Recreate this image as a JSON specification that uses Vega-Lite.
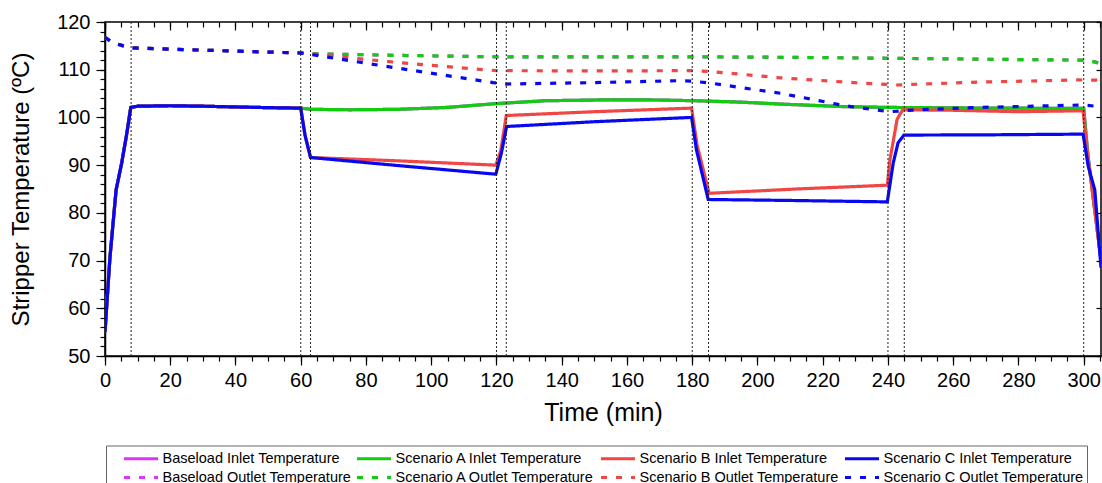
{
"$schema": "https://vega.github.io/schema/vega-lite/v6.json",
"width": 996, "height": 334,
"autosize": {"type": "none"},
"padding": {"left": 105, "top": 22, "right": 1, "bottom": 127},
"config": {
  "view": {"stroke": "black", "strokeWidth": 1.5},
  "font": "Liberation Sans",
  "axis": {"labelFont": "Liberation Sans", "titleFont": "Liberation Sans", "labelColor": "black", "titleColor": "black", "domainColor": "black", "tickColor": "black", "grid": false, "titleFontWeight": "normal", "domainWidth": 1.5, "tickWidth": 1.2, "labelFlush": false, "labelOverlap": false}
},
"datasets": {
"main": [
{"s":"L_in","t":0,"v":55},{"s":"L_in","t":1.5,"v":70.5},{"s":"L_in","t":3.4,"v":84.8},{"s":"L_in","t":5.1,"v":90.4},{"s":"L_in","t":6.6,"v":96.3},{"s":"L_in","t":7.9,"v":102.1},{"s":"L_in","t":10,"v":102.35},{"s":"L_in","t":20,"v":102.45},{"s":"L_in","t":30,"v":102.35},{"s":"L_in","t":40,"v":102.2},{"s":"L_in","t":50,"v":102.05},{"s":"L_in","t":60,"v":101.95},
{"s":"L_in","t":63,"v":101.7},{"s":"L_in","t":75,"v":101.6},{"s":"L_in","t":90,"v":101.7},{"s":"L_in","t":105,"v":102.1},{"s":"L_in","t":120,"v":102.9},{"s":"L_in","t":135,"v":103.5},{"s":"L_in","t":155,"v":103.7},{"s":"L_in","t":170,"v":103.65},{"s":"L_in","t":181,"v":103.5},{"s":"L_in","t":195,"v":103.2},{"s":"L_in","t":207,"v":102.8},{"s":"L_in","t":227,"v":102.25},{"s":"L_in","t":240,"v":102.1},{"s":"L_in","t":270,"v":101.95},{"s":"L_in","t":300,"v":101.9},{"s":"L_in","t":301.3,"v":92},{"s":"L_in","t":305.3,"v":70.2},
{"s":"L_out","t":0,"v":116.8},{"s":"L_out","t":2,"v":115.8},{"s":"L_out","t":5.6,"v":115.0},{"s":"L_out","t":8,"v":114.6},{"s":"L_out","t":20,"v":114.3},{"s":"L_out","t":40,"v":113.9},{"s":"L_out","t":60,"v":113.5},
{"s":"L_out","t":63,"v":113.35},{"s":"L_out","t":90,"v":113.0},{"s":"L_out","t":120,"v":112.7},{"s":"L_out","t":150,"v":112.7},{"s":"L_out","t":180,"v":112.7},{"s":"L_out","t":210,"v":112.6},{"s":"L_out","t":240,"v":112.4},{"s":"L_out","t":270,"v":112.2},{"s":"L_out","t":300,"v":112.0},{"s":"L_out","t":302.3,"v":111.8},{"s":"L_out","t":305.3,"v":111.3},
{"s":"A_in","t":0,"v":55},{"s":"A_in","t":1.5,"v":70.5},{"s":"A_in","t":3.4,"v":84.8},{"s":"A_in","t":5.1,"v":90.4},{"s":"A_in","t":6.6,"v":96.3},{"s":"A_in","t":7.9,"v":102.1},{"s":"A_in","t":10,"v":102.35},{"s":"A_in","t":20,"v":102.45},{"s":"A_in","t":30,"v":102.35},{"s":"A_in","t":40,"v":102.2},{"s":"A_in","t":50,"v":102.05},{"s":"A_in","t":60,"v":101.95},
{"s":"A_in","t":63,"v":101.7},{"s":"A_in","t":75,"v":101.6},{"s":"A_in","t":90,"v":101.7},{"s":"A_in","t":105,"v":102.1},{"s":"A_in","t":120,"v":102.9},{"s":"A_in","t":135,"v":103.5},{"s":"A_in","t":155,"v":103.7},{"s":"A_in","t":170,"v":103.65},{"s":"A_in","t":181,"v":103.5},{"s":"A_in","t":195,"v":103.2},{"s":"A_in","t":207,"v":102.8},{"s":"A_in","t":227,"v":102.25},{"s":"A_in","t":240,"v":102.1},{"s":"A_in","t":270,"v":101.95},{"s":"A_in","t":300,"v":101.9},{"s":"A_in","t":301.3,"v":92},{"s":"A_in","t":305.3,"v":70.2},
{"s":"A_out","t":0,"v":116.8},{"s":"A_out","t":2,"v":115.8},{"s":"A_out","t":5.6,"v":115.0},{"s":"A_out","t":8,"v":114.6},{"s":"A_out","t":20,"v":114.3},{"s":"A_out","t":40,"v":113.9},{"s":"A_out","t":60,"v":113.5},
{"s":"A_out","t":63,"v":113.35},{"s":"A_out","t":90,"v":113.0},{"s":"A_out","t":120,"v":112.7},{"s":"A_out","t":150,"v":112.7},{"s":"A_out","t":180,"v":112.7},{"s":"A_out","t":210,"v":112.6},{"s":"A_out","t":240,"v":112.4},{"s":"A_out","t":270,"v":112.2},{"s":"A_out","t":300,"v":112.0},{"s":"A_out","t":302.3,"v":111.8},{"s":"A_out","t":305.3,"v":111.3},
{"s":"B_in","t":0,"v":55},{"s":"B_in","t":1.5,"v":70.5},{"s":"B_in","t":3.4,"v":84.8},{"s":"B_in","t":5.1,"v":90.4},{"s":"B_in","t":6.6,"v":96.3},{"s":"B_in","t":7.9,"v":102.1},{"s":"B_in","t":10,"v":102.35},{"s":"B_in","t":20,"v":102.45},{"s":"B_in","t":30,"v":102.35},{"s":"B_in","t":40,"v":102.2},{"s":"B_in","t":50,"v":102.05},{"s":"B_in","t":60,"v":101.95},
{"s":"B_in","t":61.3,"v":96.3},{"s":"B_in","t":63,"v":91.6},{"s":"B_in","t":90,"v":90.9},{"s":"B_in","t":119.8,"v":90.0},{"s":"B_in","t":121.3,"v":93},{"s":"B_in","t":123,"v":100.4},{"s":"B_in","t":150,"v":101.2},{"s":"B_in","t":179.8,"v":101.95},{"s":"B_in","t":181.5,"v":94.2},{"s":"B_in","t":185.2,"v":84.1},{"s":"B_in","t":212,"v":85.0},{"s":"B_in","t":239.8,"v":85.8},{"s":"B_in","t":240.6,"v":91.1},{"s":"B_in","t":242.8,"v":99.6},{"s":"B_in","t":244.5,"v":101.6},{"s":"B_in","t":260,"v":101.5},{"s":"B_in","t":280,"v":101.2},{"s":"B_in","t":299.8,"v":101.4},{"s":"B_in","t":301.3,"v":91.8},{"s":"B_in","t":305.3,"v":70},
{"s":"B_out","t":0,"v":116.8},{"s":"B_out","t":2,"v":115.8},{"s":"B_out","t":5.6,"v":115.0},{"s":"B_out","t":8,"v":114.6},{"s":"B_out","t":20,"v":114.3},{"s":"B_out","t":40,"v":113.9},{"s":"B_out","t":60,"v":113.5},
{"s":"B_out","t":63,"v":113.3},{"s":"B_out","t":90,"v":111.5},{"s":"B_out","t":120,"v":109.8},{"s":"B_out","t":150,"v":109.75},{"s":"B_out","t":180,"v":109.8},{"s":"B_out","t":186,"v":109.6},{"s":"B_out","t":207,"v":108.3},{"s":"B_out","t":227,"v":107.4},{"s":"B_out","t":242.6,"v":106.8},{"s":"B_out","t":268,"v":107.4},{"s":"B_out","t":298,"v":107.85},{"s":"B_out","t":305.3,"v":107.8},
{"s":"C_in","t":0,"v":55},{"s":"C_in","t":1.5,"v":70.5},{"s":"C_in","t":3.4,"v":84.8},{"s":"C_in","t":5.1,"v":90.4},{"s":"C_in","t":6.6,"v":96.3},{"s":"C_in","t":7.9,"v":102.1},{"s":"C_in","t":10,"v":102.35},{"s":"C_in","t":20,"v":102.45},{"s":"C_in","t":30,"v":102.35},{"s":"C_in","t":40,"v":102.2},{"s":"C_in","t":50,"v":102.05},{"s":"C_in","t":60,"v":101.95},
{"s":"C_in","t":61.3,"v":96.3},{"s":"C_in","t":63,"v":91.6},{"s":"C_in","t":90,"v":89.9},{"s":"C_in","t":119.8,"v":88.1},{"s":"C_in","t":121.5,"v":92.5},{"s":"C_in","t":123.1,"v":98.1},{"s":"C_in","t":150,"v":99.1},{"s":"C_in","t":179.8,"v":100.0},{"s":"C_in","t":181.3,"v":93.2},{"s":"C_in","t":184.9,"v":82.8},{"s":"C_in","t":210,"v":82.6},{"s":"C_in","t":239.8,"v":82.3},{"s":"C_in","t":241.6,"v":90.4},{"s":"C_in","t":243.1,"v":94.7},{"s":"C_in","t":244.9,"v":96.3},{"s":"C_in","t":270,"v":96.35},{"s":"C_in","t":299.8,"v":96.5},{"s":"C_in","t":301.4,"v":89.7},{"s":"C_in","t":303.4,"v":84.8},{"s":"C_in","t":305.3,"v":68.5},
{"s":"C_out","t":0,"v":116.8},{"s":"C_out","t":2,"v":115.8},{"s":"C_out","t":5.6,"v":115.0},{"s":"C_out","t":8,"v":114.6},{"s":"C_out","t":20,"v":114.3},{"s":"C_out","t":40,"v":113.9},{"s":"C_out","t":60,"v":113.5},
{"s":"C_out","t":63,"v":113.2},{"s":"C_out","t":90,"v":110.3},{"s":"C_out","t":119,"v":107.3},{"s":"C_out","t":123,"v":107.0},{"s":"C_out","t":150,"v":107.3},{"s":"C_out","t":176,"v":107.7},{"s":"C_out","t":180,"v":107.6},{"s":"C_out","t":186,"v":107.15},{"s":"C_out","t":207,"v":105.06},{"s":"C_out","t":227.3,"v":102.4},{"s":"C_out","t":240.5,"v":101.2},{"s":"C_out","t":247.6,"v":101.55},{"s":"C_out","t":268,"v":102.1},{"s":"C_out","t":299.8,"v":102.6},{"s":"C_out","t":305.3,"v":102.25}
],
"events": [{"t":8},{"t":60},{"t":63},{"t":120},{"t":123},{"t":180},{"t":185},{"t":240},{"t":245},{"t":300}]
},
"data": {"name": "main"},
"layer": [
{
  "mark": {"type": "line", "strokeWidth": 3.2, "clip": true},
  "encoding": {
    "x": {"field": "t", "type": "quantitative", "scale": {"domain": [0, 305.3], "nice": false, "zero": false},
      "axis": {"orient": "bottom", "values": [0,20,40,60,80,100,120,140,160,180,200,220,240,260,280,300], "tickSize": 9, "labelFontSize": 20, "labelPadding": 5, "title": "Time (min)", "titleFontSize": 25, "titlePadding": 10}},
    "y": {"field": "v", "type": "quantitative", "scale": {"domain": [50, 120], "nice": false, "zero": false},
      "axis": {"orient": "left", "values": [50,60,70,80,90,100,110,120], "tickSize": 9, "labelFontSize": 20, "labelPadding": 6, "title": "Stripper Temperature (ºC)", "titleFontSize": 24, "titlePadding": 23}},
    "color": {"field": "s", "type": "nominal",
      "scale": {"domain": ["L_in","L_out","A_in","A_out","B_in","B_out","C_in","C_out"], "range": ["#dd33ff","#dd33ff","#11cc11","#11cc11","#f04646","#f04646","#0808f0","#0808f0"]},
      "legend": {"orient": "none", "legendX": 1, "legendY": 423.5, "columns": 4, "title": " ", "titleOrient": "left", "titleFontSize": 1, "titlePadding": 13.5,
        "labelExpr": "{'L_in':'Baseload Inlet Temperature','A_in':'Scenario A  Inlet Temperature','B_in':'Scenario B Inlet Temperature','C_in':'Scenario C Inlet Temperature','L_out':'Baseload Outlet Temperature','A_out':'Scenario A Outlet Temperature','B_out':'Scenario B Outlet Temperature','C_out':'Scenario C Outlet Temperature'}[datum.label]",
        "symbolType": "M-1,0H3", "symbolSize": 289, "symbolStrokeWidth": 3, "labelFontSize": 14.5, "labelFont": "Liberation Sans", "labelColor": "black", "labelLimit": 0, "labelOffset": 20, "columnPadding": -1, "rowPadding": 2, "padding": 3, "strokeColor": "#666666", "fillColor": "white"}},
    "strokeDash": {"field": "s", "type": "nominal",
      "scale": {"domain": ["L_in","L_out","A_in","A_out","B_in","B_out","C_in","C_out"], "range": [[1,0],[6,9],[1,0],[6,9],[1,0],[6,9],[1,0],[6,9]]},
      "legend": {"orient": "none", "legendX": 1, "legendY": 423.5, "columns": 4, "title": " ", "titleOrient": "left", "titleFontSize": 1, "titlePadding": 13.5,
        "labelExpr": "{'L_in':'Baseload Inlet Temperature','A_in':'Scenario A  Inlet Temperature','B_in':'Scenario B Inlet Temperature','C_in':'Scenario C Inlet Temperature','L_out':'Baseload Outlet Temperature','A_out':'Scenario A Outlet Temperature','B_out':'Scenario B Outlet Temperature','C_out':'Scenario C Outlet Temperature'}[datum.label]",
        "symbolType": "M-1,0H3", "symbolSize": 289, "symbolStrokeWidth": 3, "labelFontSize": 14.5, "labelFont": "Liberation Sans", "labelColor": "black", "labelLimit": 0, "labelOffset": 20, "columnPadding": -1, "rowPadding": 2, "padding": 3, "strokeColor": "#666666", "fillColor": "white"}},
    "order": {"field": "t", "type": "quantitative"}
  }
},
{
  "data": {"name": "events"},
  "mark": {"type": "rule", "strokeDash": [2, 2], "strokeWidth": 1, "color": "#222222"},
  "encoding": {
    "x": {"field": "t", "type": "quantitative",
      "axis": {"orient": "bottom", "values": [0,5,10,15,20,25,30,35,40,45,50,55,60,65,70,75,80,85,90,95,100,105,110,115,120,125,130,135,140,145,150,155,160,165,170,175,180,185,190,195,200,205,210,215,220,225,230,235,240,245,250,255,260,265,270,275,280,285,290,295,300,305], "tickSize": 5, "labels": false, "domain": false, "title": null}}
  }
},
{
  "mark": {"type": "point", "opacity": 0},
  "encoding": {
    "x": {"field": "t", "type": "quantitative",
      "axis": {"orient": "top", "values": [0,20,40,60,80,100,120,140,160,180,200,220,240,260,280,300], "tickSize": -8, "labels": false, "domain": false, "title": null}},
    "y": {"field": "v", "type": "quantitative",
      "axis": {"orient": "left", "values": [50,52,54,56,58,60,62,64,66,68,70,72,74,76,78,80,82,84,86,88,90,92,94,96,98,100,102,104,106,108,110,112,114,116,118,120], "tickSize": 5, "labels": false, "domain": false, "title": null}}
  }
},
{
  "mark": {"type": "point", "opacity": 0},
  "encoding": {
    "x": {"field": "t", "type": "quantitative",
      "axis": {"orient": "top", "values": [0,5,10,15,20,25,30,35,40,45,50,55,60,65,70,75,80,85,90,95,100,105,110,115,120,125,130,135,140,145,150,155,160,165,170,175,180,185,190,195,200,205,210,215,220,225,230,235,240,245,250,255,260,265,270,275,280,285,290,295,300,305], "tickSize": -5, "labels": false, "domain": false, "title": null}},
    "y": {"field": "v", "type": "quantitative",
      "axis": {"orient": "right", "values": [50,60,70,80,90,100,110,120], "tickSize": -5, "labels": false, "domain": false, "title": null}}
  }
}
],
"resolve": {"axis": {"x": "independent", "y": "independent"}}
}
